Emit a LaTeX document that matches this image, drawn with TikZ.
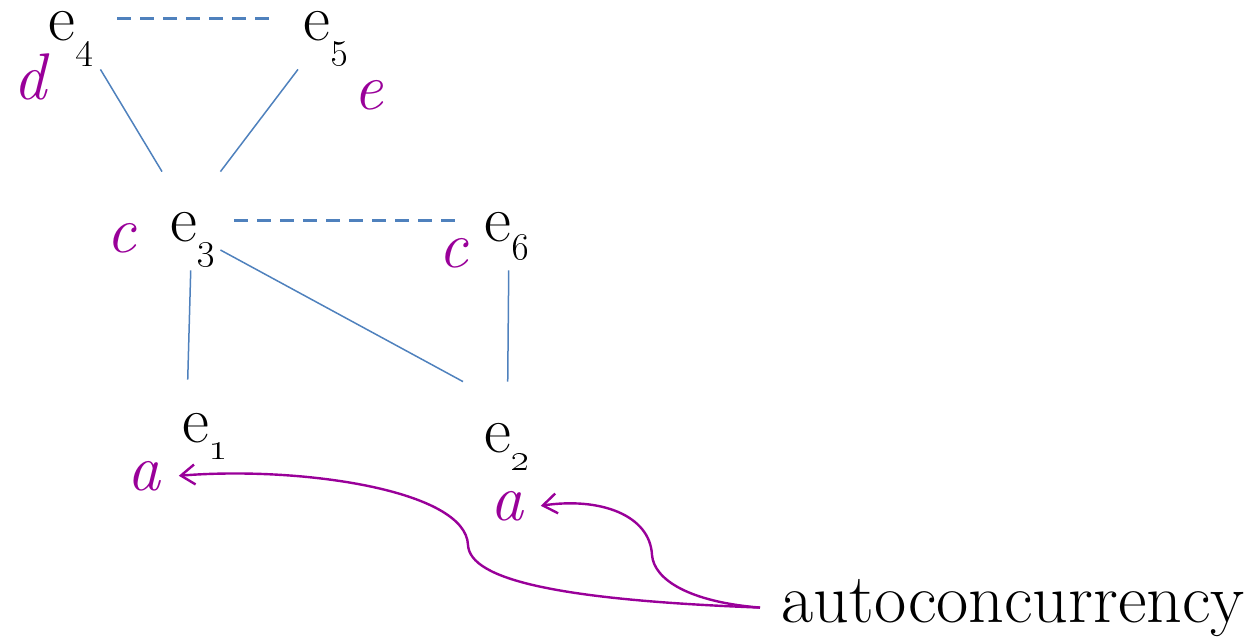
\RequirePackage{fix-cm}
\documentclass[tikz,border=0pt]{standalone}
\usetikzlibrary{arrows.meta}
\definecolor{lineblue}{RGB}{79,129,189}
\definecolor{labpurple}{RGB}{153,0,153}
\newcommand{\ev}[1]{e\raisebox{-9pt}{\fontsize{19}{20}\selectfont\oldstylenums{#1}}}
\tikzset{
  ev/.style={inner sep=0pt, anchor=base west, font=\fontsize{33}{40}\selectfont, text height=14pt, text depth=10pt},
  lab/.style={inner sep=0pt, anchor=base west, text=labpurple, font=\fontsize{33}{40}\selectfont\itshape},
  link/.style={draw=lineblue, line width=0.75pt},
  conc/.style={draw=lineblue, line width=1.5pt, dash pattern=on 7pt off 4.5pt},
  arr/.style={draw=labpurple, line width=1.2pt, -{Straight Barb[length=7pt,width=10pt]}}
}

\begin{document}
\begin{tikzpicture}[x=0.5pt, y=-0.5pt]
\useasboundingbox (0,0) rectangle (1260,642);
% events
\node[ev] (e4) at (48,41) {\ev{4}};
\node[ev] (e5) at (303,41) {\ev{5}};
\node[ev] (e3) at (170,242) {\ev{3}};
\node[ev] (e6) at (484,242) {\ev{6}};
\node[ev] (e1) at (182,442) {\ev{1}};
\node[ev] (e2) at (484,452) {\ev{2}};
% labels
\node[lab] (ld) at (13,100) {d};
\node[lab] (le) at (353,110) {e};
\node[lab] (lc3) at (106,252) {c};
\node[lab] (lc6) at (438,268) {c};
\node[lab] (la1) at (127,490) {a};
\node[lab] (la2) at (490,520) {a};
\node[inner sep=0pt, anchor=base west, font=\fontsize{35}{42}\selectfont] (auto) at (781,622) {autoconcurrency};

% causality and concurrency
\draw[conc] ([shift={(24,6)}]e4.north east) -- ([shift={(-26,6)}]e5.north west);
\draw[link] ([shift={(7,8)}]e4.south east) -- ([shift={(-8,-42)}]e3.north west);
\draw[link] ([shift={(-5,8)}]e5.south west) -- ([shift={(5,-42)}]e3.north east);
\draw[conc] ([shift={(19,7)}]e3.north east) -- ([shift={(-21,7)}]e6.north west);
\draw[link] ([shift={(-2,8)}]e3.south) -- ([shift={(-17,-34)}]e1.north);
\draw[link] ([shift={(5,12)}]e3.east) -- ([shift={(-21,-42)}]e2.north west);
\draw[link] ([shift={(2,8)}]e6.south) -- ([shift={(1,-42)}]e2.north);

% autoconcurrency arrows
\draw[arr] ([xshift=-21*0.5pt]auto.west) .. controls (560,600) and (470,580) .. (468,545)
  .. controls (466,490) and (300,466) .. ([xshift=18*0.5pt]la1.east);
\draw[arr] ([xshift=-21*0.5pt]auto.west) .. controls (690,602) and (654,580) .. (652,555)
  .. controls (650,515) and (600,497) .. ([xshift=17*0.5pt]la2.east);
\end{tikzpicture}
\end{document}
